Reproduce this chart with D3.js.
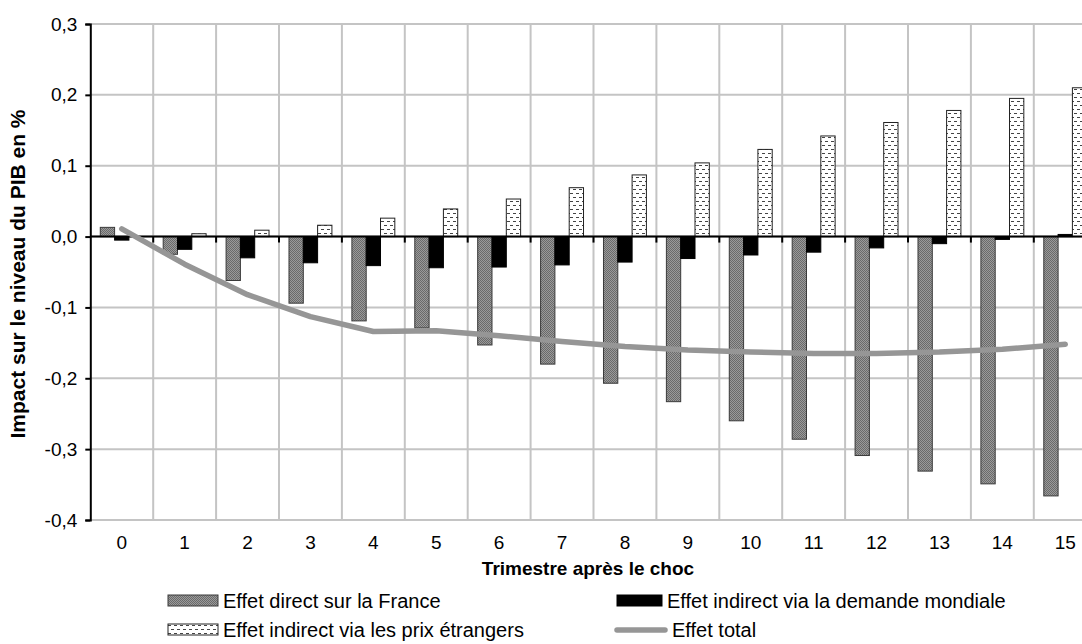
<!DOCTYPE html>
<html>
<head>
<meta charset="utf-8">
<script src="https://cdn.jsdelivr.net/npm/d3@7"></script>
<style>
  html, body { margin: 0; padding: 0; background: #fff; }
  svg { display: block; font-family: "Liberation Sans", Arial, sans-serif; }
</style>
</head>
<body>
<svg id="chart" width="1082" height="644"></svg>
<script>
// Quarters after the shock
const quarters = ["0","1","2","3","4","5","6","7","8","9","10","11","12","13","14","15"];

// Impact on GDP level, in %
const directFrance = [0.013, -0.025, -0.062, -0.094, -0.119, -0.129, -0.153, -0.180, -0.207, -0.233, -0.260, -0.286, -0.309, -0.331, -0.349, -0.366];
const worldDemand  = [-0.005, -0.018, -0.030, -0.037, -0.041, -0.044, -0.043, -0.040, -0.036, -0.031, -0.026, -0.022, -0.016, -0.010, -0.004, 0.003];
const foreignPrices = [0.000, 0.004, 0.009, 0.016, 0.026, 0.039, 0.053, 0.069, 0.087, 0.104, 0.123, 0.142, 0.161, 0.178, 0.195, 0.210];
const totalEffect  = [0.011, -0.039, -0.082, -0.113, -0.134, -0.133, -0.140, -0.148, -0.155, -0.160, -0.163, -0.165, -0.165, -0.163, -0.159, -0.152];

const yTicks = [0.3, 0.2, 0.1, 0.0, -0.1, -0.2, -0.3, -0.4];

const seriesNames = [
  "Effet direct sur la France",
  "Effet indirect via la demande mondiale",
  "Effet indirect via les prix étrangers",
  "Effet total"
];

const svg = d3.select("#chart");
const defs = svg.append("defs");

// Fine checker pattern for the direct effect
const checker = defs.append("pattern").attr("id", "checker")
  .attr("patternUnits", "userSpaceOnUse").attr("width", 2).attr("height", 2);
checker.append("rect").attr("width", 2).attr("height", 2).attr("fill", "#9a9a9a");
checker.append("rect").attr("width", 1).attr("height", 1).attr("fill", "#6a6a6a");
checker.append("rect").attr("x", 1).attr("y", 1).attr("width", 1).attr("height", 1).attr("fill", "#6a6a6a");

// Small dashes pattern for the foreign-price effect
const dashes = defs.append("pattern").attr("id", "dashes")
  .attr("patternUnits", "userSpaceOnUse").attr("width", 6).attr("height", 8);
dashes.append("rect").attr("width", 6).attr("height", 8).attr("fill", "#fff");
dashes.append("rect").attr("x", 0).attr("y", 1).attr("width", 3).attr("height", 1).attr("fill", "#444");
dashes.append("rect").attr("x", 3).attr("y", 5).attr("width", 3).attr("height", 1).attr("fill", "#444");

const plot = { left: 90.3, right: 1096.7, top: 24, bottom: 520 };

const x = d3.scaleBand().domain(quarters).range([plot.left, plot.right]).paddingInner(0).paddingOuter(0);
const y = d3.scaleLinear().domain([-0.4, 0.3]).range([plot.bottom, plot.top]);

const barW = x.bandwidth() * 0.2275;
const groupW = barW * 3;
const xs = d3.scaleBand().domain([0, 1, 2]).range([0, groupW]);

// Gridlines
const grid = svg.append("g");
grid.selectAll("line.h").data(yTicks).join("line")
  .attr("x1", plot.left).attr("x2", plot.right)
  .attr("y1", d => y(d)).attr("y2", d => y(d))
  .attr("stroke", "#c4c4c4").attr("stroke-width", 2);
grid.selectAll("line.v").data(quarters).join("line")
  .attr("x1", (d, i) => plot.left + (i + 1) * x.step())
  .attr("x2", (d, i) => plot.left + (i + 1) * x.step())
  .attr("y1", plot.top).attr("y2", plot.bottom)
  .attr("stroke", "#c4c4c4").attr("stroke-width", 2);

// Bars
const series = [
  { values: directFrance, fill: "url(#checker)", stroke: "#3a3a3a" },
  { values: worldDemand, fill: "#000", stroke: "#000" },
  { values: foreignPrices, fill: "url(#dashes)", stroke: "#222" }
];
series.forEach((s, si) => {
  svg.append("g").selectAll("rect").data(quarters).join("rect")
    .attr("x", d => x(d) + (x.bandwidth() - groupW) / 2 + xs(si))
    .attr("width", barW)
    .attr("y", (d, i) => y(Math.max(0, s.values[i])))
    .attr("height", (d, i) => Math.abs(y(s.values[i]) - y(0)))
    .attr("fill", s.fill)
    .attr("stroke", s.stroke)
    .attr("stroke-width", 1);
});

// Zero axis with tick marks between quarters
const xAxisG = svg.append("g");
xAxisG.append("line")
  .attr("x1", plot.left).attr("x2", plot.right)
  .attr("y1", y(0)).attr("y2", y(0))
  .attr("stroke", "#000").attr("stroke-width", 2);
xAxisG.selectAll("line.t").data(quarters).join("line")
  .attr("x1", (d, i) => plot.left + (i + 1) * x.step())
  .attr("x2", (d, i) => plot.left + (i + 1) * x.step())
  .attr("y1", y(0)).attr("y2", y(0) + 6)
  .attr("stroke", "#000").attr("stroke-width", 2);

// Category labels along the bottom
svg.append("g").selectAll("text").data(quarters).join("text")
  .attr("x", d => x(d) + x.bandwidth() / 2)
  .attr("y", 549)
  .attr("text-anchor", "middle")
  .attr("font-size", 19)
  .attr("fill", "#000")
  .text(d => d);

// Y axis
const yAxis = d3.axisLeft(y).tickValues(yTicks).tickSize(5).tickPadding(8)
  .tickFormat(d => d3.format(".1f")(d).replace(".", ",").replace("−", "-"));
const yg = svg.append("g").attr("transform", `translate(${plot.left},0)`).call(yAxis);
yg.select(".domain").attr("stroke", "#000").attr("stroke-width", 2);
yg.selectAll(".tick line").attr("stroke", "#000").attr("stroke-width", 2);
yg.selectAll(".tick text").attr("font-size", 19).attr("fill", "#000")
  .attr("font-family", "'Liberation Sans', Arial, sans-serif");

// Total effect line
const line = d3.line()
  .x((d, i) => x(quarters[i]) + x.bandwidth() / 2)
  .y(d => y(d));
svg.append("path").datum(totalEffect)
  .attr("d", line)
  .attr("fill", "none")
  .attr("stroke", "#969696")
  .attr("stroke-width", 5.5)
  .attr("stroke-linejoin", "round")
  .attr("stroke-linecap", "round");

// Axis titles
svg.append("text")
  .attr("transform", `translate(25,${(plot.top + plot.bottom) / 2 + 2}) rotate(-90)`)
  .attr("text-anchor", "middle")
  .attr("font-size", 21).attr("font-weight", "bold")
  .text("Impact sur le niveau du PIB en %");
svg.append("text")
  .attr("x", 588).attr("y", 575)
  .attr("text-anchor", "middle")
  .attr("font-size", 19).attr("font-weight", "bold")
  .text("Trimestre après le choc");

// Legend
const legend = svg.append("g").attr("font-size", 20);
const legendItems = [
  { name: seriesNames[0], x: 168, y: 601, type: "rect", fill: "url(#checker)", stroke: "#3a3a3a", w: 50 },
  { name: seriesNames[1], x: 617, y: 601, type: "rect", fill: "#000", stroke: "#000", w: 45 },
  { name: seriesNames[2], x: 168, y: 630, type: "rect", fill: "url(#dashes)", stroke: "#222", w: 50 },
  { name: seriesNames[3], x: 617, y: 630, type: "line", w: 48 }
];
legendItems.forEach(it => {
  if (it.type === "rect") {
    legend.append("rect")
      .attr("x", it.x).attr("y", it.y - 6).attr("width", it.w).attr("height", 11)
      .attr("fill", it.fill).attr("stroke", it.stroke).attr("stroke-width", 1);
  } else {
    legend.append("line")
      .attr("x1", it.x).attr("x2", it.x + it.w)
      .attr("y1", it.y).attr("y2", it.y)
      .attr("stroke", "#969696").attr("stroke-width", 5.5).attr("stroke-linecap", "round");
  }
  legend.append("text")
    .attr("x", it.type === "rect" ? it.x + it.w + 5 : it.x + it.w + 7)
    .attr("y", it.y)
    .attr("dominant-baseline", "central")
    .text(it.name);
});
</script>
</body>
</html>
